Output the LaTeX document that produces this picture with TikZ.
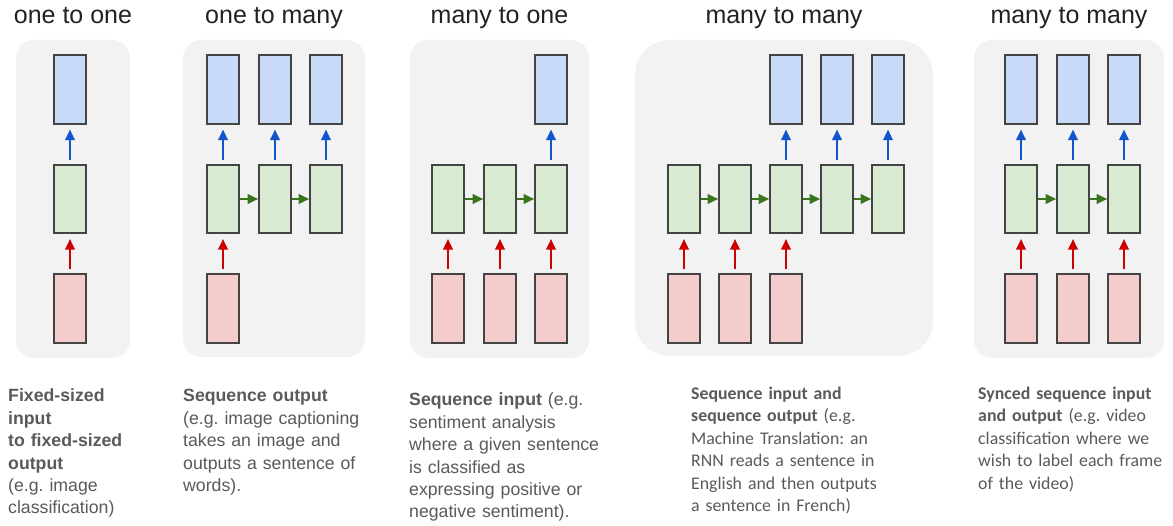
\documentclass[tikz,border=0pt]{standalone}
\usepackage{fontspec}
\setmainfont{Liberation Sans}
\newfontfamily\carlito{Carlito}
\usetikzlibrary{arrows.meta}
\definecolor{panelbg}{HTML}{F2F2F2}
\definecolor{bluefill}{HTML}{C9DAF8}
\definecolor{greenfill}{HTML}{D9EAD3}
\definecolor{redfill}{HTML}{F4CCCC}
\definecolor{boxline}{HTML}{434343}
\definecolor{bluearr}{HTML}{1155CC}
\definecolor{redarr}{HTML}{CC0000}
\definecolor{greenarr}{HTML}{38761D}
\definecolor{titlegray}{HTML}{222222}
\definecolor{descgray}{HTML}{5A5A5A}
\begin{document}
\frenchspacing
\begin{tikzpicture}[x=1pt,y=-1pt,
 panel/.style={fill=panelbg, rounded corners=18pt},
 cell/.style={draw=boxline, line width=1.6pt, minimum width=32pt, minimum height=68.5pt, inner sep=0pt},
 outbox/.style={cell, fill=bluefill},
 hidbox/.style={cell, fill=greenfill},
 inbox/.style={cell, fill=redfill},
 arr/.style={line width=2pt, -{Triangle[length=10.5pt,width=9.5pt]}},
 upout/.style={arr, draw=bluearr, shorten <=4pt, shorten >=5pt},
 upin/.style={arr, draw=redarr, shorten <=4pt, shorten >=5pt},
 recur/.style={arr, draw=greenarr},
 title/.style={font=\fontsize{25}{30}\selectfont, text=titlegray, anchor=base, inner sep=0pt},
 desc/.style={font=\fontsize{17.7}{22.4}\selectfont\frenchspacing, text=descgray, anchor=base west, inner sep=0pt, text width=240pt, align=left},
]
\useasboundingbox[fill=white] (0,0) rectangle (1173,526);

% panels
\fill[panel] (16,40) rectangle (130,358);
\fill[panel] (183,40) rectangle (365,357);
\fill[panel] (410,40) rectangle (589,358);
\fill[panel, rounded corners=35pt] (635,40) rectangle (933,356);
\fill[panel] (974,40) rectangle (1164,358);

% titles
\node[title] (t1) at (73,24) {one to one};
\node[title] (t2) at (274,24) {one to many};
\node[title] (t3) at (499.5,24) {many to one};
\node[title] (t4) at (784,24) {many to many};
\node[title] (t5) at (1069,24) {many to many};

% panel 1: one to one
\node[outbox] (a-o1) at (70,89.5) {};
\node[hidbox] (a-h1) at (70,199) {};
\node[inbox] (a-i1) at (70,308.5) {};
\draw[upin] (a-i1) -- (a-h1);
\draw[upout] (a-h1) -- (a-o1);

% panel 2: one to many
\foreach \n/\x in {1/223,2/275,3/326} {
  \node[outbox] (b-o\n) at (\x,89.5) {};
  \node[hidbox] (b-h\n) at (\x,199) {};
  \draw[upout] (b-h\n) -- (b-o\n);
}
\node[inbox] (b-i1) at (223,308.5) {};
\draw[upin] (b-i1) -- (b-h1);
\draw[recur] (b-h1) -- (b-h2);
\draw[recur] (b-h2) -- (b-h3);

% panel 3: many to one
\foreach \n/\x in {1/448,2/500,3/551} {
  \node[hidbox] (c-h\n) at (\x,199) {};
  \node[inbox] (c-i\n) at (\x,308.5) {};
  \draw[upin] (c-i\n) -- (c-h\n);
}
\node[outbox] (c-o3) at (551,89.5) {};
\draw[upout] (c-h3) -- (c-o3);
\draw[recur] (c-h1) -- (c-h2);
\draw[recur] (c-h2) -- (c-h3);

% panel 4: many to many (encoder-decoder)
\foreach \n/\x in {1/684,2/735,3/786,4/837,5/888} {
  \node[hidbox] (d-h\n) at (\x,199) {};
}
\foreach \n/\x in {1/684,2/735,3/786} {
  \node[inbox] (d-i\n) at (\x,308.5) {};
  \draw[upin] (d-i\n) -- (d-h\n);
}
\foreach \n/\x in {3/786,4/837,5/888} {
  \node[outbox] (d-o\n) at (\x,89.5) {};
  \draw[upout] (d-h\n) -- (d-o\n);
}
\draw[recur] (d-h1) -- (d-h2);
\draw[recur] (d-h2) -- (d-h3);
\draw[recur] (d-h3) -- (d-h4);
\draw[recur] (d-h4) -- (d-h5);

% panel 5: synced many to many
\foreach \n/\x in {1/1021,2/1073,3/1124} {
  \node[outbox] (e-o\n) at (\x,89.5) {};
  \node[hidbox] (e-h\n) at (\x,199) {};
  \node[inbox] (e-i\n) at (\x,308.5) {};
  \draw[upin] (e-i\n) -- (e-h\n);
  \draw[upout] (e-h\n) -- (e-o\n);
}
\draw[recur] (e-h1) -- (e-h2);
\draw[recur] (e-h2) -- (e-h3);

% descriptions
\node[desc] (d1) at (8,402) {\textbf{Fixed-sized}\\ \textbf{input}\\ \textbf{to fixed-sized}\\ \textbf{output}\\ (e.g. image\\ classification)};
\node[desc] (d2) at (183,402) {\textbf{Sequence output}\\ (e.g. image captioning\\ takes an image and\\ outputs a sentence of\\ words).};
\node[desc] (d3) at (409,406) {\textbf{Sequence input} (e.g.\\ sentiment analysis\\ where a given sentence\\ is classified as\\ expressing positive or\\ negative sentiment).};
\node[desc, font=\carlito\fontsize{17.8}{22.5}\selectfont\frenchspacing] (d4) at (691,399.5) {\textbf{Sequence input and}\\ \textbf{sequence output} (e.g.\\ Machine Translation: an\\ RNN reads a sentence in\\ English and then outputs\\ a sentence in French)};
\node[desc, font=\carlito\fontsize{17.8}{22.5}\selectfont\frenchspacing] (d5) at (978,399.5) {\textbf{Synced sequence input}\\ \textbf{and output} (e.g. video\\ classification where we\\ wish to label each frame\\ of the video)};
\end{tikzpicture}
\end{document}
